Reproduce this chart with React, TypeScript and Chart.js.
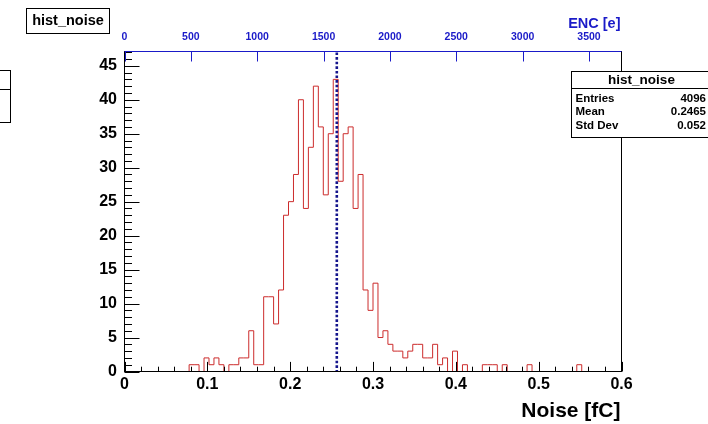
import React, { useEffect, useRef } from 'react';
import { Chart, registerables } from 'chart.js';

Chart.register(...registerables);

// ---------- data ----------
const xMin = 0;
const xMax = 0.6;
const binWidth = 0.006;
const counts = [
  0, 0, 0, 0, 0, 0, 0, 0, 0, 0, 0, 0, 0,
  1, 1, 0, 2, 1, 2, 1, 0, 1, 1, 2, 2, 6,
  1, 1, 11, 11, 7, 12, 23, 25, 29, 40, 24, 33, 42, 36, 26, 35, 43, 28, 35, 36, 24, 29, 12, 9, 13, 5, 6, 4,
  3, 3, 2, 3, 4, 4, 2, 2, 4, 1, 2, 0, 3, 0, 1,
  0, 0, 0, 1, 1, 1, 0, 1, 0, 0, 0, 0, 1, 0, 0, 0, 0, 0, 0, 0, 0, 0, 1, 0, 0, 0, 0, 0, 0, 0, 0,
];
const yMax = 47.1;
const xTicks = [0, 0.1, 0.2, 0.3, 0.4, 0.5, 0.6];
const xMinorStep = 0.02;
const yTicks = [0, 5, 10, 15, 20, 25, 30, 35, 40, 45];
const yMinorStep = 1;
const encTicks = [0, 500, 1000, 1500, 2000, 2500, 3000, 3500];
const encPerFc = 6241.5;
const markerFc = 0.2563;
const histName = 'hist_noise';
const xTitle = 'Noise [fC]';
const encTitle = 'ENC [e]';
const statsLabels = ['Entries', 'Mean', 'Std Dev'];
const statsValues = ['4096', '0.2465', '0.052'];

const FONT = "'Liberation Sans', Arial, Helvetica, sans-serif";
const BLUE = '#1a1ac8';
const RED = '#cc2c2c';

const decorPlugin = {
  id: 'decor',
  afterDatasetsDraw(chart: any) {
    const ctx = chart.ctx as CanvasRenderingContext2D;
    const { left, right, top, bottom } = chart.chartArea;
    const sx = chart.scales.x;
    const sy = chart.scales.y;
    const s2 = chart.scales.x2;
    ctx.save();

    // dotted marker line
    const mx = sx.getPixelForValue(markerFc);
    ctx.strokeStyle = '#14148c';
    ctx.lineWidth = 2.6;
    ctx.setLineDash([2.6, 2]);
    ctx.beginPath();
    ctx.moveTo(mx, top + 1);
    ctx.lineTo(mx, bottom);
    ctx.stroke();
    ctx.setLineDash([]);

    // frame
    ctx.strokeStyle = '#000';
    ctx.lineWidth = 1;
    ctx.strokeRect(left, top, right - left, bottom - top);

    // x ticks (bottom)
    ctx.beginPath();
    const nMinorX = Math.round((xMax - xMin) / xMinorStep);
    for (let i = 0; i <= nMinorX; i++) {
      const v = xMin + i * xMinorStep;
      const px = Math.round(sx.getPixelForValue(v)) + 0.5;
      const major = i % 5 === 0;
      ctx.moveTo(px, bottom);
      ctx.lineTo(px, bottom - (major ? 9.6 : 4.8));
    }
    // y ticks (left)
    const nMinorY = Math.floor(yMax / yMinorStep);
    for (let i = 0; i <= nMinorY; i++) {
      const py = Math.round(sy.getPixelForValue(i * yMinorStep)) + 0.5;
      const major = i % 5 === 0;
      ctx.moveTo(left, py);
      ctx.lineTo(left + (major ? 15 : 7.5), py);
    }
    ctx.stroke();

    // top ENC axis
    ctx.strokeStyle = BLUE;
    ctx.beginPath();
    ctx.moveTo(left, top);
    ctx.lineTo(right, top);
    for (const v of encTicks) {
      const px = Math.round(s2.getPixelForValue(v)) + 0.5;
      ctx.moveTo(px, top);
      ctx.lineTo(px, top + 10);
    }
    ctx.stroke();

    // ENC title
    ctx.fillStyle = BLUE;
    ctx.font = `bold 14.5px ${FONT}`;
    ctx.textAlign = 'right';
    ctx.textBaseline = 'middle';
    ctx.fillText(encTitle, right - 1, 24);

    // x axis title
    ctx.fillStyle = '#000';
    ctx.font = `bold 21px ${FONT}`;
    ctx.textAlign = 'right';
    ctx.textBaseline = 'alphabetic';
    ctx.fillText(xTitle, right - 1, 417);

    // title box
    ctx.fillStyle = '#fff';
    ctx.fillRect(26.5, 8.5, 83, 25);
    ctx.strokeStyle = '#000';
    ctx.strokeRect(26.5, 8.5, 83, 25);
    ctx.fillStyle = '#000';
    ctx.font = `bold 14.5px ${FONT}`;
    ctx.textAlign = 'center';
    ctx.textBaseline = 'middle';
    ctx.fillText(histName, 68, 21);

    // clipped box on the left edge
    ctx.fillStyle = '#fff';
    ctx.fillRect(-5, 70.5, 15.5, 52);
    ctx.strokeRect(-5, 70.5, 15.5, 52);
    ctx.beginPath();
    ctx.moveTo(0, 89.5);
    ctx.lineTo(10.5, 89.5);
    ctx.stroke();

    // stats box
    const bx = 571.5, by = 71.5, bw = 140, bh = 66;
    ctx.fillStyle = '#fff';
    ctx.fillRect(bx, by, bw, bh);
    ctx.strokeRect(bx, by, bw, bh);
    ctx.beginPath();
    ctx.moveTo(bx, 88.5);
    ctx.lineTo(bx + bw, 88.5);
    ctx.stroke();
    ctx.fillStyle = '#000';
    ctx.font = `bold 13.5px ${FONT}`;
    ctx.textAlign = 'center';
    ctx.fillText(histName, 641.5, 80);
    ctx.font = `bold 11.5px ${FONT}`;
    statsLabels.forEach((lab, i) => {
      const yy = 98.5 + i * 13.7;
      ctx.textAlign = 'left';
      ctx.fillText(lab, 575.5, yy);
      ctx.textAlign = 'right';
      ctx.fillText(statsValues[i], 706, yy);
    });

    ctx.restore();
  },
};

export default function App() {
  const ref = useRef<HTMLCanvasElement | null>(null);
  useEffect(() => {
    if (!ref.current) return;
    const points = counts.map((c, i) => ({ x: xMin + i * binWidth, y: c }));
    points.push({ x: xMax, y: counts[counts.length - 1] });
    const tickFont = { family: FONT, weight: 'bold' as const, size: 16 };
    const chart = new Chart(ref.current, {
      type: 'line',
      data: {
        datasets: [
          {
            data: points,
            borderColor: RED,
            borderWidth: 1,
            pointRadius: 0,
            fill: false,
            stepped: true,
            tension: 0,
          },
        ],
      },
      options: {
        responsive: false,
        animation: false,
        events: [],
        layout: { padding: { left: 0, right: 86.5, top: 0, bottom: 0 } },
        plugins: { legend: { display: false }, tooltip: { enabled: false } },
        scales: {
          x: {
            type: 'linear',
            position: 'bottom',
            min: xMin,
            max: xMax,
            grid: { display: false, drawTicks: false },
            border: { display: false },
            ticks: {
              font: tickFont,
              color: '#000',
              padding: 3.5,
              maxRotation: 0,
              autoSkip: false,
              callback: (v: any) => String(Math.round(Number(v) * 10) / 10),
            },
            afterBuildTicks: (s: any) => {
              s.ticks = xTicks.map((v) => ({ value: v }));
            },
            afterFit: (s: any) => {
              s.height = 52.5;
            },
          },
          x2: {
            type: 'linear',
            position: 'top',
            min: 0,
            max: xMax * encPerFc,
            grid: { display: false, drawTicks: false },
            border: { display: false },
            ticks: {
              font: { family: FONT, weight: 'bold' as const, size: 10.5 },
              color: BLUE,
              padding: 8.5,
              maxRotation: 0,
              autoSkip: false,
              callback: (v: any) => String(v),
            },
            afterBuildTicks: (s: any) => {
              s.ticks = encTicks.map((v) => ({ value: v }));
            },
            afterFit: (s: any) => {
              s.height = 51.5;
            },
          },
          y: {
            type: 'linear',
            position: 'left',
            min: 0,
            max: yMax,
            grid: { display: false, drawTicks: false },
            border: { display: false },
            ticks: {
              font: tickFont,
              color: '#000',
              padding: 7.5,
              autoSkip: false,
              callback: (v: any) => String(v),
            },
            afterBuildTicks: (s: any) => {
              s.ticks = yTicks.map((v) => ({ value: v }));
            },
            afterFit: (s: any) => {
              s.width = 124.5;
            },
          },
        },
      } as any,
      plugins: [decorPlugin],
    });
    return () => chart.destroy();
  }, []);
  return (
    <div style={{ position: 'absolute', left: 0, top: 0, width: 708, height: 424, background: '#fff' }}>
      <canvas ref={ref} width={708} height={424} style={{ width: 708, height: 424, display: 'block' }} />
    </div>
  );
}
